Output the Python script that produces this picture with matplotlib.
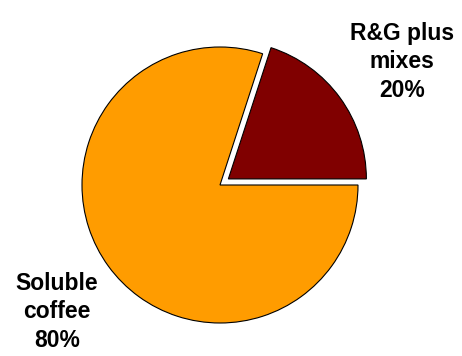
import matplotlib.pyplot as plt

# dados
categorias = ["R&G plus\nmixes", "Soluble\ncoffee"]
valores = [20, 80]
cores = ["#800000", "#FF9C00"]
explode = [0.075, 0.0]

plt.rcParams['font.family'] = ['Liberation Sans', 'DejaVu Sans']

fig = plt.figure(figsize=(4.62, 3.56), dpi=100)
ax = fig.add_axes([0, 0, 1, 1])

ax.pie(valores, colors=cores, explode=explode, startangle=0,
       counterclock=True, radius=1.0,
       wedgeprops=dict(edgecolor="black", linewidth=0.8))

# escala: ~138 px por unidade
ax.set_xlim(-220 / 138, (462 - 220) / 138)
ax.set_ylim(-171 / 138, (356 - 171) / 138)
ax.set_aspect('auto')
ax.axis("off")

# rótulos
pos_labels = [(402 / 462, 1 - 62 / 356), (57 / 462, 1 - 312 / 356)]
for cat, v, (x, y) in zip(categorias, valores, pos_labels):
    fig.text(x, y, f"{cat}\n{v}%", ha="center", va="center",
             fontsize=16.5, fontweight="bold", linespacing=1.32)

fig.savefig("out.png", dpi=100)
